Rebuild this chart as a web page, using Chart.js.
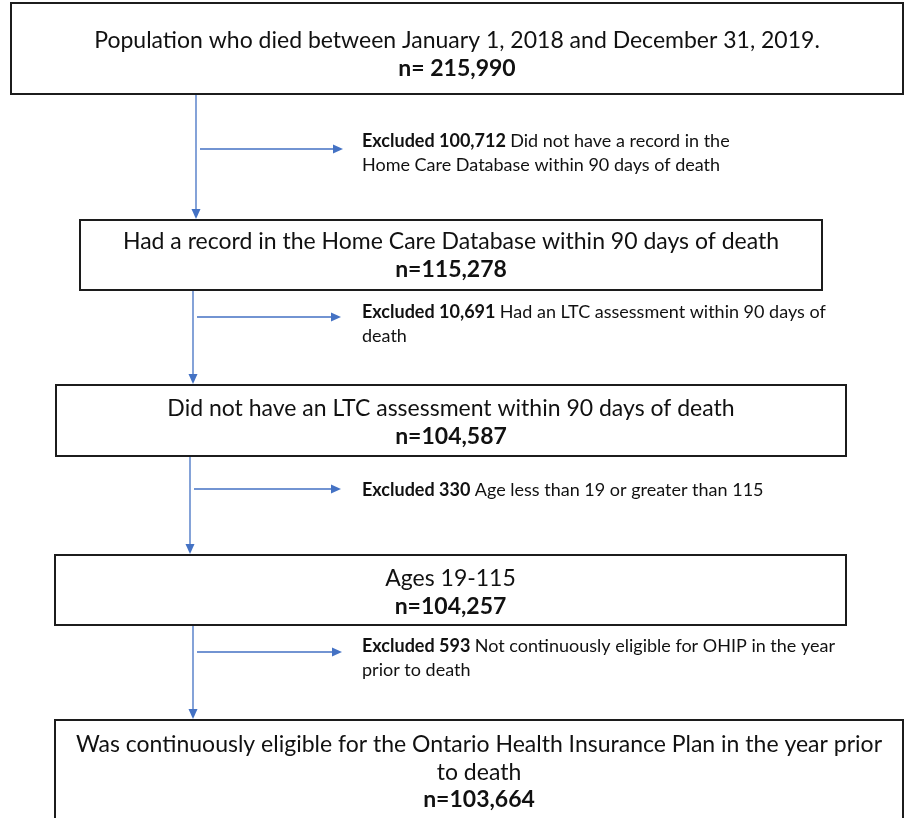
<!DOCTYPE html>
<html>
<head>
<meta charset="utf-8">
<script src="https://cdn.jsdelivr.net/npm/chart.js@4.4.1/dist/chart.umd.min.js"></script>
<style>
  html, body { margin: 0; padding: 0; background: #fff; }
  #wrap { width: 907px; height: 818px; }
</style>
</head>
<body>
<div id="wrap"><canvas id="flow"></canvas></div>
<script>
// ---- data: cohort steps, top to bottom ----
const stepLabels = [
  "Population who died between January 1, 2018 and December 31, 2019.",
  "Had a record in the Home Care Database within 90 days of death",
  "Did not have an LTC assessment within 90 days of death",
  "Ages 19-115",
  "Was continuously eligible for the Ontario Health Insurance Plan in the year prior\nto death"
];
const stepCounts = [215990, 115278, 104587, 104257, 103664];
const countPrefix = ["n= ", "n=", "n=", "n=", "n="];

// ---- data: exclusions between steps ----
const excludedCounts = [100712, 10691, 330, 593];
const excludedReasons = [
  "Did not have a record in the\nHome Care Database within 90 days of death",
  "Had an LTC assessment within 90 days of\ndeath",
  "Age less than 19 or greater than 115",
  "Not continuously eligible for OHIP in the year\nprior to death"
];

// ---- layout (in scale units = px of the original figure) ----
const boxLeft   = [11, 80, 56, 55, 55];
const boxRight  = [903, 822, 846, 846, 903];
const boxTop    = [3, 220, 385, 555, 720];
const boxBottom = [94, 290, 456, 625, 850];
const firstLineY = [41, 242, 409, 579, 745];
const stemX     = [196, 193, 190, 193];
const branchY   = [149, 317, 489, 652];
const branchEndX = [343, 341, 341, 342];
const noteX = 362;
const noteFirstY = [141, 312, 490, 646];

const FONT = "Lato, 'Open Sans', sans-serif";
const ARROW = "#4472c4";

const fmt = n => n.toLocaleString("en-US");

// draws boxes, connectors and notes through the chart's x/y scales
const flowPlugin = {
  id: "flow",
  afterDraw(chart) {
    const ctx = chart.ctx;
    const sx = chart.scales.x, sy = chart.scales.y;
    const X = v => sx.getPixelForValue(v);
    const Y = v => sy.getPixelForValue(v);

    ctx.save();
    ctx.textBaseline = "middle";

    // boxes
    stepLabels.forEach((label, i) => {
      const l = X(boxLeft[i]), r = X(boxRight[i]);
      const t = Y(boxTop[i]), b = Y(boxBottom[i]);
      ctx.fillStyle = "#fff";
      ctx.fillRect(l, t, r - l, b - t);
      ctx.strokeStyle = "#1c1c1c";
      ctx.lineWidth = 2;
      ctx.strokeRect(l, t, r - l, b - t);

      const cx = (l + r) / 2;
      const lines = label.split("\n");
      ctx.fillStyle = "#111";
      ctx.textAlign = "center";
      ctx.font = "23px " + FONT;
      lines.forEach((ln, k) => {
        ctx.fillText(ln, cx, Y(firstLineY[i] + k * 27.5));
      });
      ctx.font = "bold 23px " + FONT;
      ctx.fillText(countPrefix[i] + fmt(stepCounts[i]), cx, Y(firstLineY[i] + lines.length * 27.5));
    });

    // connectors + exclusion notes
    excludedCounts.forEach((cnt, i) => {
      const x0 = X(stemX[i]);
      const yTop = Y(boxBottom[i]) + 1;
      const yBot = Y(boxTop[i + 1]) - 1;
      const yb = Y(branchY[i]);
      const xe = X(branchEndX[i]);

      ctx.strokeStyle = ARROW;
      ctx.fillStyle = ARROW;
      ctx.lineWidth = 1.3;
      ctx.beginPath();
      ctx.moveTo(x0, yTop);
      ctx.lineTo(x0, yBot - 9);
      ctx.moveTo(x0 + 4, yb);
      ctx.lineTo(xe - 9, yb);
      ctx.stroke();

      // arrow heads
      ctx.beginPath();
      ctx.moveTo(x0, yBot);
      ctx.lineTo(x0 - 4.5, yBot - 10);
      ctx.lineTo(x0 + 4.5, yBot - 10);
      ctx.closePath();
      ctx.fill();
      ctx.beginPath();
      ctx.moveTo(xe, yb);
      ctx.lineTo(xe - 10, yb - 4.5);
      ctx.lineTo(xe - 10, yb + 4.5);
      ctx.closePath();
      ctx.fill();

      // note text
      ctx.fillStyle = "#111";
      ctx.textAlign = "left";
      const nx = X(noteX);
      const lines = excludedReasons[i].split("\n");
      const bold = "Excluded " + fmt(cnt);
      ctx.font = "bold 18px " + FONT;
      ctx.fillText(bold, nx, Y(noteFirstY[i]));
      const w = ctx.measureText(bold + " ").width;
      ctx.font = "18px " + FONT;
      ctx.fillText(lines[0], nx + w, Y(noteFirstY[i]));
      lines.slice(1).forEach((ln, k) => {
        ctx.fillText(ln, nx, Y(noteFirstY[i] + (k + 1) * 24));
      });
    });

    ctx.restore();
  }
};

new Chart(document.getElementById("flow"), {
  type: "scatter",
  data: {
    datasets: [{
      data: stepCounts.map((c, i) => ({ x: (boxLeft[i] + boxRight[i]) / 2, y: firstLineY[i] })),
      pointRadius: 0
    }]
  },
  options: {
    responsive: true,
    maintainAspectRatio: false,
    animation: false,
    layout: { padding: 0 },
    plugins: { legend: { display: false }, tooltip: { enabled: false } },
    scales: {
      x: { type: "linear", min: 0, max: 907, display: false },
      y: { type: "linear", min: 0, max: 818, reverse: true, display: false }
    }
  },
  plugins: [flowPlugin]
});
</script>
</body>
</html>
